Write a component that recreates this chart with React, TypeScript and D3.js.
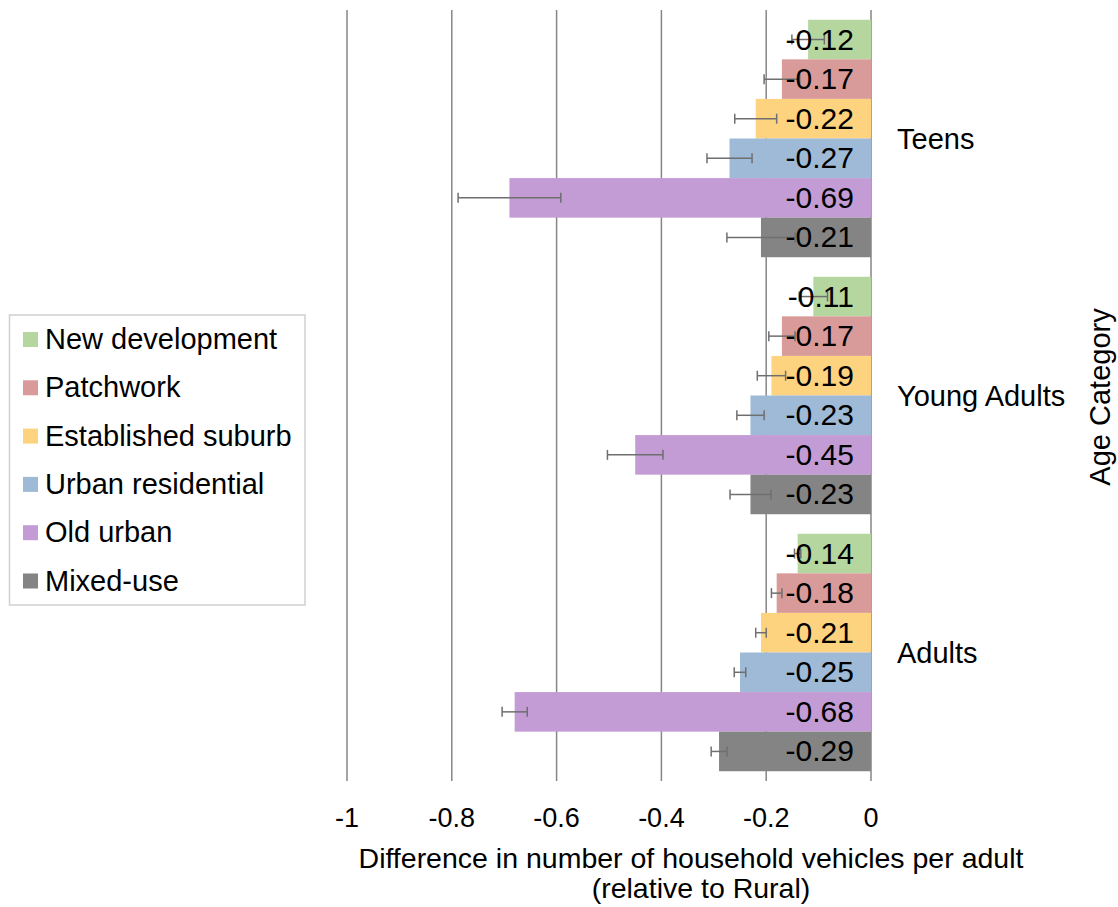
import React from "react";
import * as d3 from "d3";

const categories = ["Teens", "Young Adults", "Adults"];
const seriesNames = [
  "New development",
  "Patchwork",
  "Established suburb",
  "Urban residential",
  "Old urban",
  "Mixed-use",
];
const seriesColors = ["#B5D79F", "#D99B9A", "#FED37F", "#9EBAD7", "#C39CD5", "#848484"];
// values per category (rows) per series (columns)
const teensValues = [-0.12, -0.17, -0.22, -0.27, -0.69, -0.21];
const youngAdultsValues = [-0.11, -0.17, -0.19, -0.23, -0.45, -0.23];
const adultsValues = [-0.14, -0.18, -0.21, -0.25, -0.68, -0.29];
const teensErrors = [0.031, 0.034, 0.04, 0.043, 0.098, 0.065];
const youngAdultsErrors = [0.027, 0.025, 0.027, 0.026, 0.053, 0.039];
const adultsErrors = [0.006, 0.01, 0.01, 0.011, 0.024, 0.015];
const xTicks = [-1, -0.8, -0.6, -0.4, -0.2, 0];
const xTitle1 = "Difference in number of household vehicles per adult";
const xTitle2 = "(relative to Rural)";
const yTitle = "Age Category";

const valuesByCat = [teensValues, youngAdultsValues, adultsValues];
const errorsByCat = [teensErrors, youngAdultsErrors, adultsErrors];

const FONT = "'Liberation Sans', Arial, sans-serif";

export default function App() {
  const x = d3.scaleLinear().domain([-1, 0]).range([347, 871]);
  const y0 = d3
    .scaleBand<string>()
    .domain(categories)
    .range([10, 781])
    .paddingInner(0.076)
    .paddingOuter(0.038);
  const y1 = d3
    .scaleBand<string>()
    .domain(seriesNames)
    .range([0, y0.bandwidth()]);

  const fmt = (v: number) => d3.format(".2f")(v).replace("−", "-");

  return (
    <svg
      width={1118}
      height={907}
      style={{ position: "absolute", left: 0, top: 0, display: "block" }}
      fontFamily={FONT}
    >
      <rect x={0} y={0} width={1118} height={907} fill="#fff" />
      {/* gridlines */}
      {xTicks.map((t) => (
        <line
          key={"g" + t}
          x1={x(t)}
          x2={x(t)}
          y1={10}
          y2={781}
          stroke="#868686"
          strokeWidth={1.5}
        />
      ))}
      {/* bars */}
      {categories.map((c, ci) => (
        <g key={c} transform={`translate(0,${y0(c)})`}>
          {seriesNames.map((s, si) => {
            const v = valuesByCat[ci][si];
            return (
              <rect
                key={s}
                x={x(v)}
                y={y1(s)}
                width={x(0) - x(v)}
                height={y1.bandwidth()}
                fill={seriesColors[si]}
              />
            );
          })}
        </g>
      ))}
      {/* error bars */}
      {categories.map((c, ci) => (
        <g key={"e" + c} transform={`translate(0,${y0(c)})`}>
          {seriesNames.map((s, si) => {
            const v = valuesByCat[ci][si];
            const e = errorsByCat[ci][si];
            const cy = (y1(s) as number) + y1.bandwidth() / 2;
            return (
              <g key={s} stroke="#6f6f6f" strokeWidth={1.5}>
                <line x1={x(v - e)} x2={x(v + e)} y1={cy} y2={cy} />
                <line x1={x(v - e)} x2={x(v - e)} y1={cy - 5} y2={cy + 5} />
                <line x1={x(v + e)} x2={x(v + e)} y1={cy - 5} y2={cy + 5} />
              </g>
            );
          })}
        </g>
      ))}
      {/* value labels */}
      {categories.map((c, ci) => (
        <g key={"l" + c} transform={`translate(0,${y0(c)})`}>
          {seriesNames.map((s, si) => {
            const v = valuesByCat[ci][si];
            const cy = (y1(s) as number) + y1.bandwidth() / 2;
            return (
              <text
                key={s}
                x={854}
                y={cy + 10}
                textAnchor="end"
                fontSize={30}
                fill="#000"
              >
                {fmt(v)}
              </text>
            );
          })}
        </g>
      ))}
      {/* category labels */}
      {categories.map((c) => (
        <text
          key={"c" + c}
          x={897}
          y={(y0(c) as number) + y0.bandwidth() / 2 + 10}
          fontSize={29}
          fill="#000"
        >
          {c}
        </text>
      ))}
      {/* y title */}
      <text
        transform={`translate(1110,397) rotate(-90)`}
        textAnchor="middle"
        fontSize={29}
        fill="#000"
      >
        {yTitle}
      </text>
      {/* x tick labels */}
      {xTicks.map((t) => (
        <text
          key={"t" + t}
          x={x(t)}
          y={827}
          textAnchor="middle"
          fontSize={27}
          fill="#000"
        >
          {String(t)}
        </text>
      ))}
      <text x={691} y={868} textAnchor="middle" fontSize={28.5} fill="#000">
        {xTitle1}
      </text>
      <text x={701} y={898} textAnchor="middle" fontSize={28.5} fill="#000">
        {xTitle2}
      </text>
      {/* legend */}
      <g>
        <rect x={9.5} y={315} width={295.5} height={290} fill="#fff" stroke="#d0d0d0" strokeWidth={1.5} />
        {seriesNames.map((s, i) => {
          const cy = 339.5 + i * 48.3;
          return (
            <g key={"lg" + s}>
              <rect x={23} y={cy - 7.5} width={15} height={15} fill={seriesColors[i]} />
              <text x={45} y={cy + 9.5} fontSize={29} fill="#000">
                {s}
              </text>
            </g>
          );
        })}
      </g>
    </svg>
  );
}
